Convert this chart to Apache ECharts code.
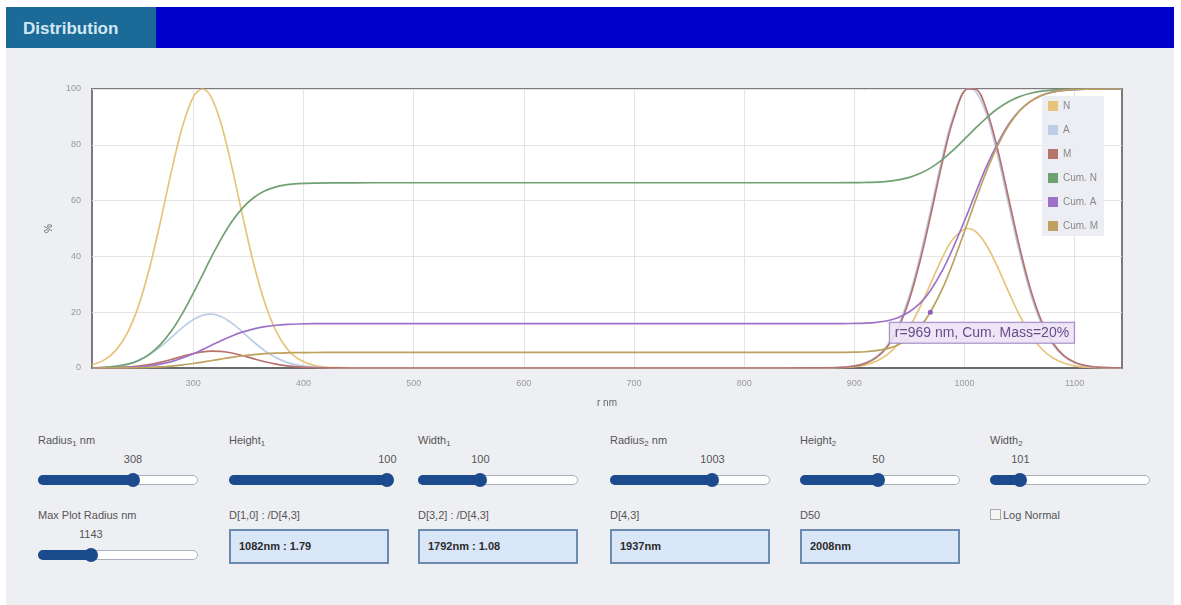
<!DOCTYPE html>
<html>
<head>
<meta charset="utf-8">
<script src="https://cdn.jsdelivr.net/npm/echarts@6/dist/echarts.min.js"></script>
<style>
html,body{margin:0;padding:0;background:#fff;width:1181px;height:605px;overflow:hidden;font-family:"Liberation Sans",Arial,sans-serif;}
#panel{position:absolute;left:6px;top:7px;width:1168px;height:598px;background:#eeeff3;}
#header{position:absolute;left:6px;top:7px;width:1168px;height:41px;background:#0000cc;}
#tab{position:absolute;left:0;top:0;height:41px;width:150px;background:#1b6a98;color:#d3e8f3;font-weight:bold;font-size:17px;line-height:44px;padding-left:17px;box-sizing:border-box;}
#chart{position:absolute;left:6px;top:50px;width:1168px;height:372px;}
.lbl{position:absolute;font-size:11px;color:#555;white-space:nowrap;}
.lbl sub{font-size:8px;vertical-align:-2px;}
.val{position:absolute;font-size:11px;color:#555;transform:translateX(-50%);white-space:nowrap;}
.track{position:absolute;width:158px;height:8px;border:1px solid #a9b0bd;border-radius:5px;background:#fff;}
.fill{position:absolute;left:-1px;top:-1px;height:10px;border-radius:5px;background:#1b4b8d;}
.thumb{position:absolute;top:-3px;width:14px;height:14px;margin-left:-7px;border-radius:50%;background:#1b4b8d;}
.box{position:absolute;width:148px;height:31px;border:2px solid #6a8ab0;background:#d9e6f8;font-size:11px;font-weight:bold;color:#2b2b2b;line-height:31px;padding-left:8px;}
.chk{position:absolute;font-size:11px;color:#555;}
.chk span{display:inline-block;width:9px;height:9px;border:1px solid #aaa;background:#f4f4f4;vertical-align:-1px;margin-right:2px;}
</style>
</head>
<body>
<div id="panel"></div>
<div id="header"><div id="tab">Distribution</div></div>
<div id="chart"></div>
<div id="controls"></div>
<script>
// Radius grid (nm) shared by every curve
const radius = [
  208, 220, 230, 240, 250, 260, 270, 280, 290, 300,
  308, 316, 325, 335, 345, 355, 365, 375, 385, 395,
  410, 430, 460, 500, 600, 700, 800, 860, 880, 890,
  900, 910, 920, 930, 940, 950, 960, 969, 980, 990,
  1003, 1010, 1020, 1030, 1040, 1050, 1060, 1070, 1080, 1090,
  1100, 1110, 1120, 1130, 1140, 1143
];

// Number distribution (%)
const numberDist = [
  1.1, 3.1, 6.5, 12.5, 22.0, 35.5, 52.2, 70.3, 86.4, 97.2,
  100, 97.2, 87.8, 72.0, 54.0, 37.0, 23.2, 13.3, 6.9, 3.3,
  0.9, 0.1, 0, 0, 0, 0, 0, 0.01, 0.06, 0.18,
  0.46, 1.10, 2.40, 4.77, 8.69, 14.49, 22.13, 30.0, 39.60, 46.41,
  50.0, 48.93, 44.02, 36.25, 27.34, 18.87, 11.93, 6.90, 3.66, 1.78,
  0.79, 0.32, 0.12, 0.04, 0.01, 0.01
];

// Area distribution (%)
const areaDist = [
  0.09, 0.30, 0.68, 1.43, 2.73, 4.77, 7.57, 10.96, 14.45, 17.39,
  18.86, 19.30, 18.44, 16.07, 12.78, 9.27, 6.14, 3.72, 2.03, 1.02,
  0.30, 0.04, 0, 0, 0, 0, 0, 0.01, 0.10, 0.28,
  0.75, 1.82, 4.03, 8.20, 15.26, 25.99, 40.54, 56.05, 75.60, 90.43,
  100.0, 99.23, 91.04, 76.46, 58.78, 41.36, 26.65, 15.71, 8.49, 4.19,
  1.90, 0.78, 0.30, 0.10, 0.03, 0.03
];

// Mass distribution (%)
const massDist = [
  0.02, 0.07, 0.16, 0.34, 0.68, 1.24, 2.04, 3.06, 4.18, 5.20,
  5.79, 6.08, 5.97, 5.37, 4.40, 3.28, 2.24, 1.39, 0.78, 0.40,
  0.12, 0.02, 0, 0, 0, 0, 0, 0.01, 0.09, 0.25,
  0.67, 1.65, 3.70, 7.60, 14.30, 24.62, 38.80, 54.15, 73.87, 89.25,
  100.0, 99.92, 92.58, 78.52, 60.95, 43.30, 28.16, 16.76, 9.14, 4.55,
  2.08, 0.86, 0.33, 0.11, 0.03, 0.03
];

// Cumulative number (%)
const cumNumber = [
  0, 0.19, 0.55, 1.29, 2.63, 4.89, 8.36, 13.23, 19.49, 26.84,
  33.14, 39.44, 46.1, 52.5, 57.5, 61.1, 63.5, 64.9, 65.7, 66.06,
  66.29, 66.36, 66.4, 66.4, 66.4, 66.4, 66.4, 66.4, 66.4, 66.41,
  66.44, 66.50, 66.63, 66.91, 67.43, 68.34, 69.79, 71.65, 74.71, 78.15,
  83.2, 85.97, 89.69, 92.90, 95.43, 97.27, 98.48, 99.22, 99.63, 99.84,
  99.93, 99.97, 99.99, 100, 100, 100
];

// Cumulative area (%)
const cumArea = [
  0, 0.03, 0.08, 0.19, 0.40, 0.77, 1.38, 2.30, 3.56, 5.13,
  6.57, 8.08, 9.76, 11.49, 12.93, 14.04, 14.82, 15.32, 15.61, 15.77,
  15.87, 15.9, 15.9, 15.9, 15.9, 15.9, 15.9, 15.9, 15.91, 15.93,
  15.98, 16.09, 16.38, 16.95, 18.10, 20.15, 23.34, 27.72, 34.96, 43.35,
  55.60, 62.63, 72.25, 80.43, 87.26, 92.28, 95.58, 97.70, 98.89, 99.50,
  99.79, 99.92, 99.97, 100, 100, 100
];

// Cumulative mass (%)
const cumMass = [
  0, 0.01, 0.02, 0.05, 0.11, 0.21, 0.40, 0.68, 1.09, 1.61,
  2.09, 2.61, 3.21, 3.84, 4.38, 4.81, 5.12, 5.33, 5.45, 5.52,
  5.56, 5.58, 5.58, 5.58, 5.58, 5.58, 5.58, 5.58, 5.59, 5.62,
  5.68, 5.83, 6.20, 6.96, 8.36, 10.86, 14.88, 20.00, 28.43, 38.12,
  52.22, 60.01, 70.53, 79.64, 86.86, 92.11, 95.59, 97.72, 98.91, 99.52,
  99.80, 99.92, 99.97, 100, 100, 100
];

const seriesNames = ['N', 'A', 'M', 'Cum. N', 'Cum. A', 'Cum. M'];
const seriesValues = [numberDist, areaDist, massDist, cumNumber, cumArea, cumMass];
const seriesColors = ['#e6c479', '#bccde6', '#b6736c', '#6fa173', '#9d72c8', '#bda15f'];

const xTicks = [300, 400, 500, 600, 700, 800, 900, 1000, 1100];
const xMin = 208, xMax = 1143;

// Cursor readout on the cumulative mass curve
const markRadius = 969;
const markCumMass = 20;

// Slider and readout panel content
const sliderLabels = ['Radius<sub>1</sub> nm', 'Height<sub>1</sub>', 'Width<sub>1</sub>',
                      'Radius<sub>2</sub> nm', 'Height<sub>2</sub>', 'Width<sub>2</sub>', 'Max Plot Radius nm'];
const sliderValues = ['308', '100', '100', '1003', '50', '101', '1143'];
const readoutLabels = ['D[1,0] : /D[4,3]', 'D[3,2] : /D[4,3]', 'D[4,3]', 'D50'];
const readoutValues = ['1082nm : 1.79', '1792nm : 1.08', '1937nm', '2008nm'];
const checkboxLabel = 'Log Normal';

// ---- controls below the chart ----
(function buildControls() {
  const root = document.getElementById('controls');
  const sliderLayout = [
    {x: 38, y: 434, frac: 0.594}, {x: 229, y: 434, frac: 0.99}, {x: 418, y: 434, frac: 0.39},
    {x: 610, y: 434, frac: 0.64}, {x: 800, y: 434, frac: 0.49}, {x: 990, y: 434, frac: 0.19},
    {x: 38, y: 509, frac: 0.33}
  ];
  sliderLabels.forEach((lab, i) => {
    const L = sliderLayout[i];
    const l = document.createElement('div');
    l.className = 'lbl'; l.innerHTML = lab;
    l.style.left = L.x + 'px'; l.style.top = L.y + 'px';
    root.appendChild(l);
    const thumbX = L.x + 160 * L.frac;
    const v = document.createElement('div');
    v.className = 'val'; v.textContent = sliderValues[i];
    v.style.left = thumbX + 'px'; v.style.top = (L.y + 19) + 'px';
    root.appendChild(v);
    const t = document.createElement('div');
    t.className = 'track';
    t.style.left = L.x + 'px'; t.style.top = (L.y + 41) + 'px';
    const f = document.createElement('div');
    f.className = 'fill'; f.style.width = (160 * L.frac) + 'px';
    const th = document.createElement('div');
    th.className = 'thumb'; th.style.left = (160 * L.frac - 1) + 'px';
    t.appendChild(f); t.appendChild(th);
    root.appendChild(t);
  });
  const boxX = [229, 418, 610, 800];
  readoutLabels.forEach((lab, i) => {
    const l = document.createElement('div');
    l.className = 'lbl'; l.textContent = lab;
    l.style.left = boxX[i] + 'px'; l.style.top = '509px';
    root.appendChild(l);
    const b = document.createElement('div');
    b.className = 'box'; b.textContent = readoutValues[i];
    b.style.left = boxX[i] + 'px'; b.style.top = '529px';
    root.appendChild(b);
  });
  const c = document.createElement('div');
  c.className = 'chk';
  c.innerHTML = '<span></span>' + checkboxLabel;
  c.style.left = '990px'; c.style.top = '509px';
  root.appendChild(c);
})();

// ---- chart ----
const chart = echarts.init(document.getElementById('chart'), null, {renderer: 'canvas'});

const series = seriesNames.map((name, i) => ({
  name: name,
  type: 'line',
  smooth: 0.35,
  showSymbol: false,
  symbol: 'none',
  color: seriesColors[i],
  lineStyle: {width: 1.7, color: seriesColors[i]},
  data: radius.map((r, k) => [r, seriesValues[i][k]])
}));

series[5].markPoint = {
  symbol: 'circle',
  symbolSize: 5,
  itemStyle: {color: '#8c5fc0'},
  data: [{
    coord: [markRadius, markCumMass],
    label: {
      show: true,
      formatter: 'r=' + markRadius + ' nm, Cum. Mass=' + markCumMass + '%',
      position: [-38, 13],
      align: 'left',
      color: '#6a4b8c',
      fontSize: 14,
      backgroundColor: 'rgba(236,226,246,0.9)',
      borderColor: '#9c86c0',
      borderWidth: 1,
      padding: [3, 5]
    }
  }]
};

chart.setOption({
  animation: false,
  textStyle: {fontFamily: '"Liberation Sans", Arial, sans-serif'},
  grid: {left: 86, top: 39, width: 1030, height: 279, show: true,
         backgroundColor: '#ffffff', borderColor: '#7b7b7b', borderWidth: 2},
  legend: {
    orient: 'vertical',
    left: 1036, top: 46,
    icon: 'rect',
    itemWidth: 10, itemHeight: 10, itemGap: 14,
    padding: [5, 6],
    backgroundColor: 'rgba(236,237,242,0.92)',
    textStyle: {color: '#888', fontSize: 10},
    data: seriesNames
  },
  xAxis: {
    type: 'value', min: xMin, max: xMax,
    name: 'r nm', nameLocation: 'middle', nameGap: 30,
    nameTextStyle: {color: '#666', fontSize: 10},
    axisLine: {show: true, lineStyle: {color: '#6b6b6b', width: 2}},
    axisTick: {show: false, customValues: xTicks},
    axisLabel: {customValues: xTicks, color: '#999', fontSize: 9, margin: 11,
                formatter: v => String(v)},
    splitLine: {show: true, lineStyle: {color: '#e4e4e4'}}
  },
  yAxis: {
    type: 'value', min: 0, max: 100, interval: 20,
    name: '%', nameLocation: 'middle', nameGap: 38,
    nameTextStyle: {color: '#666', fontSize: 10},
    axisLine: {show: false}, axisTick: {show: false},
    axisLabel: {color: '#999', fontSize: 9, margin: 11},
    splitLine: {show: true, lineStyle: {color: '#e4e4e4'}}
  },
  series: series
});
</script>
</body>
</html>
